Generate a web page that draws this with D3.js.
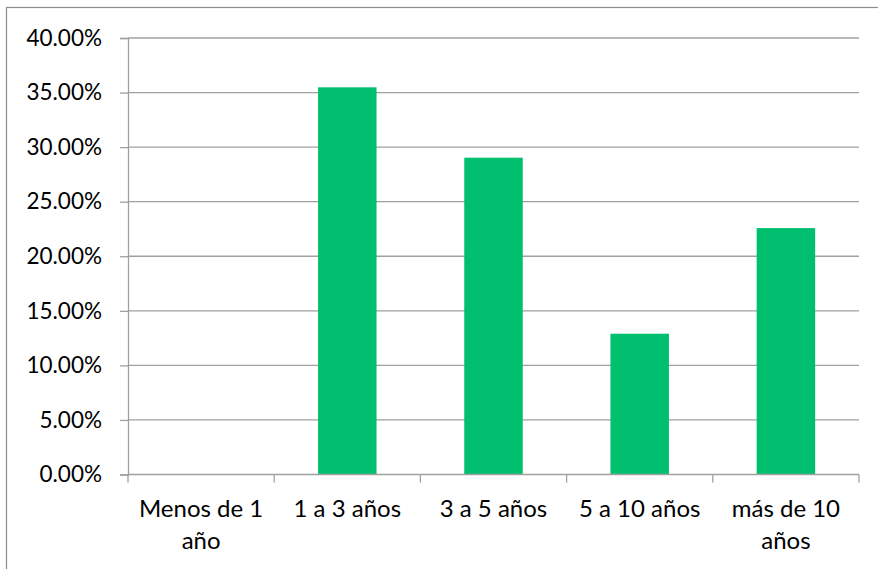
<!DOCTYPE html>
<html>
<head>
<meta charset="utf-8">
<script src="https://cdn.jsdelivr.net/npm/d3@7"></script>
<style>
  html, body { margin: 0; padding: 0; background: #ffffff; }
  svg { display: block; }
  text { font-family: Lato, "Open Sans", sans-serif; fill: #000; }
</style>
</head>
<body>
<svg id="chart" width="878" height="569"></svg>
<script>
// Years of service categories and share of respondents
const categories = ["Menos de 1 año", "1 a 3 años", "3 a 5 años", "5 a 10 años", "más de 10 años"];
const shares = [0, 0.3548, 0.2903, 0.1290, 0.2258];
const yTicks = [0, 0.05, 0.10, 0.15, 0.20, 0.25, 0.30, 0.35, 0.40];

const W = 878, H = 569;
const margin = { left: 128, right: 19, top: 38, bottom: 94.5 };
const gridColor = "#a0a0a0";
const barColor = "#00bf6f";

const svg = d3.select("#chart");

// chart frame
svg.append("rect")
  .attr("x", 6.5).attr("y", 7.5)
  .attr("width", W + 20).attr("height", H + 20)
  .attr("fill", "none").attr("stroke", "#8c8c8c").attr("stroke-width", 1.2);

const x = d3.scaleBand()
  .domain(categories)
  .range([margin.left, W - margin.right])
  .paddingInner(0.6).paddingOuter(0.3);

const y = d3.scaleLinear()
  .domain([0, 0.40])
  .range([H - margin.bottom, margin.top]);

const pct = d3.format(".2%");

// horizontal gridlines
svg.append("g")
  .selectAll("line")
  .data(yTicks.filter(t => t > 0))
  .join("line")
  .attr("x1", margin.left).attr("x2", W - margin.right)
  .attr("y1", d => y(d)).attr("y2", d => y(d))
  .attr("stroke", gridColor).attr("stroke-width", 1.3);

// y axis
const yAxis = svg.append("g")
  .attr("transform", `translate(${margin.left},0)`)
  .call(d3.axisLeft(y).tickValues(yTicks).tickFormat(pct).tickSize(8).tickPadding(18));
yAxis.select(".domain").attr("stroke", gridColor).attr("stroke-width", 1.3);
yAxis.selectAll(".tick line").attr("stroke", gridColor).attr("stroke-width", 1.3);
yAxis.selectAll(".tick text")
  .attr("font-size", 22.5)
  .attr("font-family", "Lato, sans-serif")
  .attr("fill", "#000");

// bars
svg.append("g")
  .selectAll("rect")
  .data(categories.map((c, i) => ({ c, v: shares[i] })))
  .join("rect")
  .attr("x", d => x(d.c))
  .attr("width", x.bandwidth())
  .attr("y", d => y(d.v))
  .attr("height", d => y(0) - y(d.v))
  .attr("fill", barColor);

// x axis with ticks at category boundaries
const x0 = y(0);
const xAxis = svg.append("g");
xAxis.append("line")
  .attr("x1", margin.left).attr("x2", W - margin.right)
  .attr("y1", x0).attr("y2", x0)
  .attr("stroke", gridColor).attr("stroke-width", 1.3);
const bounds = d3.range(categories.length + 1).map(i => margin.left + i * (W - margin.right - margin.left) / categories.length);
xAxis.selectAll("line.tick")
  .data(bounds)
  .join("line")
  .attr("class", "tick")
  .attr("x1", d => d).attr("x2", d => d)
  .attr("y1", x0).attr("y2", x0 + 8)
  .attr("stroke", gridColor).attr("stroke-width", 1.3);

// category labels, wrapped to the band width
const bandW = (W - margin.right - margin.left) / categories.length;
const labels = xAxis.selectAll("text.cat")
  .data(categories)
  .join("text")
  .attr("class", "cat")
  .attr("text-anchor", "middle")
  .attr("font-size", 24)
  .attr("x", d => x(d) + x.bandwidth() / 2)
  .attr("y", 517);

labels.each(function(d) {
  const t = d3.select(this);
  const cx = +t.attr("x");
  const words = d.split(" ");
  let lines = [], cur = [];
  const probe = t.append("tspan");
  words.forEach(w => {
    const trial = cur.concat([w]).join(" ");
    probe.text(trial);
    if (probe.node().getComputedTextLength() > bandW * 0.9 && cur.length) {
      lines.push(cur.join(" "));
      cur = [w];
    } else {
      cur.push(w);
    }
  });
  lines.push(cur.join(" "));
  probe.remove();
  lines.forEach((ln, i) => {
    t.append("tspan").attr("x", cx).attr("dy", i === 0 ? 0 : 32).text(ln);
  });
});
</script>
</body>
</html>
